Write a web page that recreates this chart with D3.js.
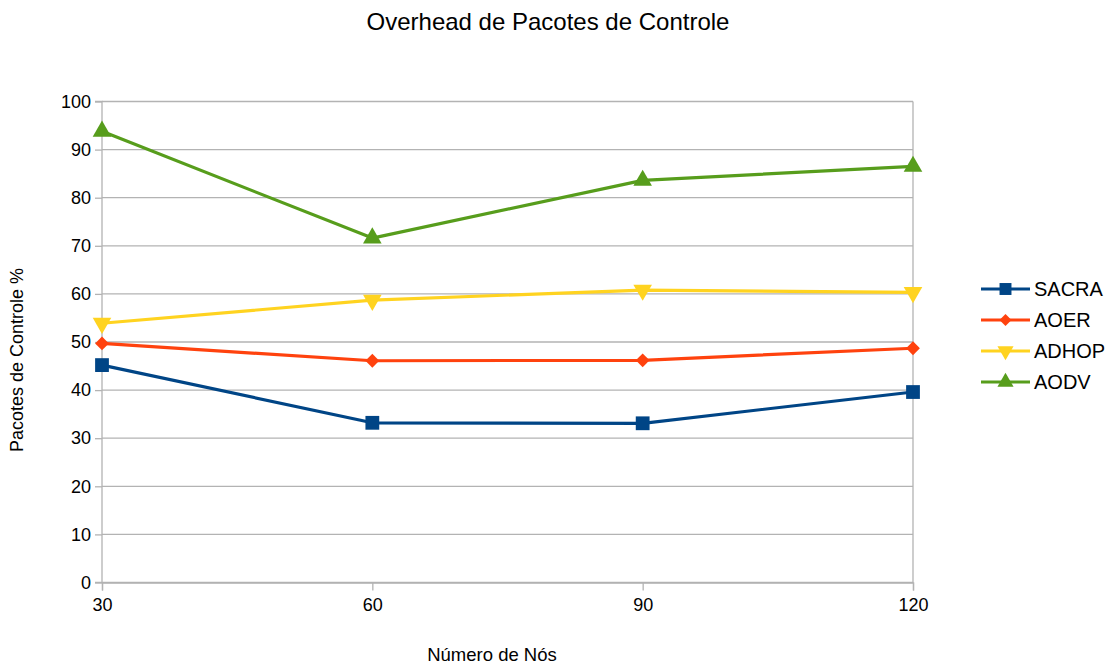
<!DOCTYPE html>
<html><head><meta charset="utf-8">
<script src="https://cdn.jsdelivr.net/npm/d3@7"></script>
<style>body{margin:0;background:#fff;} text{font-family:"Liberation Sans",Arial,sans-serif;}</style>
</head><body>
<svg id="c" width="1113" height="666"></svg>
<script>
const categories = [30, 60, 90, 120];
const sacra = [45.2, 33.2, 33.1, 39.6];
const aoer  = [49.7, 46.1, 46.2, 48.7];
const adhop = [53.9, 58.7, 60.8, 60.3];
const aodv  = [93.8, 71.6, 83.6, 86.5];
const seriesNames = ["SACRA", "AOER", "ADHOP", "AODV"];
const yTicks = [0,10,20,30,40,50,60,70,80,90,100];

const series = [
  {name: seriesNames[0], values: sacra, color: "#004586", symbol: d3.symbolSquare, size: 190, rot: 0},
  {name: seriesNames[1], values: aoer,  color: "#ff420e", symbol: d3.symbolSquare, size: 95, rot: 45},
  {name: seriesNames[2], values: adhop, color: "#ffd320", symbol: d3.symbolTriangle, size: 150, rot: 180},
  {name: seriesNames[3], values: aodv,  color: "#579d1c", symbol: d3.symbolTriangle, size: 150, rot: 0}
];

const svg = d3.select("#c");
const L = 102, R = 913, T = 101.5, B = 582.5;
const x = d3.scalePoint().domain(categories).range([L, R]);
const y = d3.scaleLinear().domain([0, 100]).range([B, T]);

// grid
svg.append("g").selectAll("line").data(yTicks).join("line")
  .attr("x1", L).attr("x2", R).attr("y1", d => y(d)).attr("y2", d => y(d))
  .attr("stroke", "#b3b3b3").attr("stroke-width", 1.3);
svg.append("line").attr("x1", R).attr("x2", R).attr("y1", T).attr("y2", B)
  .attr("stroke", "#b3b3b3").attr("stroke-width", 1.3);

// axes
const yAxis = d3.axisLeft(y).tickValues(yTicks).tickSize(7).tickPadding(4);
const gy = svg.append("g").attr("transform", `translate(${L},0)`).call(yAxis);
const xAxis = d3.axisBottom(x).tickSize(8).tickPadding(8);
const gx = svg.append("g").attr("transform", `translate(0,${B})`).call(xAxis);
[gy, gx].forEach(g => {
  g.select(".domain").attr("stroke", "#b3b3b3").attr("stroke-width", 1.3);
  g.selectAll(".tick line").attr("stroke", "#b3b3b3").attr("stroke-width", 1.3);
  g.selectAll("text").attr("fill", "#000").style("font-size", "18px")
    .style("font-family", '"Liberation Sans", Arial, sans-serif');
});
gy.select(".domain").attr("d", `M-7,${T}H0V${B}H-7`);

// lines & markers
const line = d3.line().x((d, i) => x(categories[i])).y(d => y(d));
series.forEach(s => {
  svg.append("path").attr("d", line(s.values)).attr("fill", "none")
    .attr("stroke", s.color).attr("stroke-width", 3.2).attr("stroke-linejoin", "round");
  svg.append("g").selectAll("path").data(s.values).join("path")
    .attr("d", d3.symbol(s.symbol, s.size))
    .attr("transform", (d, i) => `translate(${x(categories[i])},${y(d)}) rotate(${s.rot})`)
    .attr("fill", s.color);
});

// legend
const lg = svg.append("g");
series.forEach((s, i) => {
  const yy = 289 + i * 31;
  lg.append("line").attr("x1", 981).attr("x2", 1030).attr("y1", yy).attr("y2", yy)
    .attr("stroke", s.color).attr("stroke-width", 3.2);
  lg.append("path").attr("d", d3.symbol(s.symbol, s.size * 0.75))
    .attr("transform", `translate(1005.5,${yy}) rotate(${s.rot})`).attr("fill", s.color);
  lg.append("text").attr("x", 1034).attr("y", yy).attr("dy", "0.36em")
    .style("font-size", "20px").text(s.name);
});

// titles
svg.append("text").attr("x", 548).attr("y", 30).attr("text-anchor", "middle")
  .style("font-size", "24px").text("Overhead de Pacotes de Controle");
svg.append("text").attr("x", 492).attr("y", 661).attr("text-anchor", "middle")
  .style("font-size", "18.5px").text("Número de Nós");
svg.append("text").attr("transform", "translate(23,360) rotate(-90)").attr("text-anchor", "middle")
  .style("font-size", "18px").text("Pacotes de Controle %");
</script>
</body></html>
